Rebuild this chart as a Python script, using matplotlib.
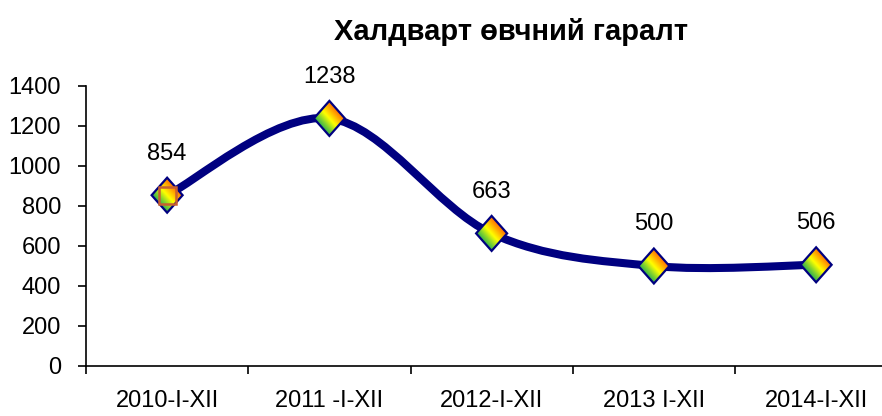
import numpy as np
import matplotlib
matplotlib.use("Agg")
import matplotlib.pyplot as plt
from matplotlib.path import Path
from matplotlib.patches import PathPatch, Polygon, Rectangle
from matplotlib.transforms import Affine2D, ScaledTranslation
from matplotlib.colors import LinearSegmentedColormap

categories = ["2010-I-XII", "2011 -I-XII", "2012-I-XII", "2013 I-XII", "2014-I-XII"]
values = [854, 1238, 663, 500, 506]
yticks = [0, 200, 400, 600, 800, 1000, 1200, 1400]
title = "Халдварт өвчний гаралт"

plt.rcParams['font.family'] = ['Liberation Sans', 'DejaVu Sans']

W, H = 882, 416
fig = plt.figure(figsize=(W / 100, H / 100), dpi=100)
left_px, right_px, top_px, bot_px = 86, 882, 86, 366
ax = fig.add_axes([left_px / W, (H - bot_px) / H, (right_px - left_px) / W, (bot_px - top_px) / H])

cat_w = 162.25
xs = np.arange(len(values), dtype=float)
ys = np.array(values, dtype=float)
xlim = (-0.5, -0.5 + (right_px - left_px) / cat_w)

ax.set_yticks(yticks)
ax.set_yticklabels([str(v) for v in yticks], fontsize=17)
ax.set_xticks(xs)
ax.set_xticklabels(categories, fontsize=17)
ax.set_xticks(np.arange(-0.5, len(values) - 0.4, 1.0), minor=True)
ax.set_xlim(*xlim)
ax.set_ylim(0, 1400)

# smoothed line (Excel-like Catmull-Rom Bezier)
P = np.column_stack([xs, ys])
n = len(P)
verts = [tuple(P[0])]
codes = [Path.MOVETO]
for i in range(n - 1):
    p_prev = P[i - 1] if i > 0 else P[i]
    p_next2 = P[i + 2] if i + 2 < n else P[i + 1]
    c1 = P[i] + (P[i + 1] - p_prev) / 6.0
    c2 = P[i + 1] - (p_next2 - P[i]) / 6.0
    verts += [tuple(c1), tuple(c2), tuple(P[i + 1])]
    codes += [Path.CURVE4] * 3
ax.add_patch(PathPatch(Path(verts, codes), facecolor='none', edgecolor='#000080',
                       lw=5.8, capstyle='round', joinstyle='round', zorder=3))

cmap = LinearSegmentedColormap.from_list(
    'g', ['#109a98', '#30b050', '#90d828', '#ffff00', '#ffb800', '#ff7000', '#ff5010'])
g = np.linspace(-1, 1, 64)
GX, GY = np.meshgrid(g, g)
grad = (GX + GY) / 2.0

for x, y in zip(xs, ys):
    t = Affine2D().scale(15.5, 17.5) + ScaledTranslation(x, y, ax.transData)
    diamond = Polygon([(0, 1), (1, 0), (0, -1), (-1, 0)], closed=True, transform=t,
                      facecolor='none', edgecolor='none')
    ax.add_patch(diamond)
    im = ax.imshow(grad, extent=(-1, 1, -1, 1), origin='lower', cmap=cmap,
                   vmin=-0.75, vmax=0.75, interpolation='bilinear', transform=t, zorder=4)
    im.set_clip_path(diamond)
    ax.add_patch(Polygon([(0, 1), (1, 0), (0, -1), (-1, 0)], closed=True, transform=t,
                         facecolor='none', edgecolor='#000080', lw=1.6, zorder=5))
    ax.annotate(f"{int(y)}", (x, y), xytext=(0, 30), textcoords='offset points',
                ha='center', va='center', fontsize=17, color='black', zorder=6)

# extra square marker on first point
t0 = Affine2D().scale(8.5, 8.5) + ScaledTranslation(xs[0], ys[0], ax.transData)
ax.add_patch(Rectangle((-1, -1), 2, 2, transform=t0, facecolor='none',
                       edgecolor='#c8602f', lw=1.8, zorder=6))

ax.set_aspect('auto')
ax.set_xlim(*xlim)
ax.set_ylim(0, 1400)
ax.tick_params(axis='x', which='major', length=0, pad=17)
ax.tick_params(axis='x', which='minor', length=6, width=1.2, direction='out')
ax.tick_params(axis='y', length=6, width=1.2, direction='out', pad=12)
for s in ['top', 'right']:
    ax.spines[s].set_visible(False)
for s in ['left', 'bottom']:
    ax.spines[s].set_linewidth(1.2)
ax.patch.set_alpha(0)

fig.text(511 / W, 1 - 32 / H, title, ha='center', va='center', fontsize=21,
         fontweight='bold')

fig.savefig('out.png', dpi=100)
